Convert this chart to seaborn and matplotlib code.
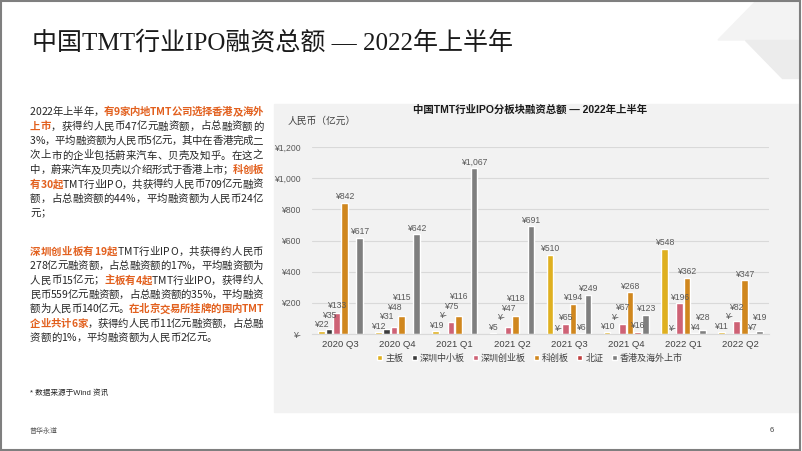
import numpy as np
import pandas as pd
import matplotlib
matplotlib.use("Agg")
import matplotlib.pyplot as plt
import seaborn as sns
from matplotlib.patches import Rectangle, Polygon
from matplotlib.ticker import FuncFormatter

# chart data (亿元)
quarters = ["2020 Q3", "2020 Q4", "2021 Q1", "2021 Q2",
            "2021 Q3", "2021 Q4", "2022 Q1", "2022 Q2"]
boards = ["主板", "深圳中小板", "深圳创业板", "科创板", "北证", "香港及海外上市"]
main_board = [22, 12, 19, 5, 510, 10, 548, 11]
sme_board = [35, 31, 0, 0, 0, 0, 0, 0]
chinext = [133, 48, 75, 47, 65, 67, 196, 82]
star_market = [842, 115, 116, 118, 194, 268, 362, 347]
bse = [np.nan, np.nan, np.nan, np.nan, 6, 16, 4, 7]
hk_overseas = [617, 642, 1067, 691, 249, 123, 28, 19]
palette = ["#FFC000", "#3B3B3B", "#E0506A", "#EE8C00", "#D42A2A", "#7F7F7F"]
y_ticks = [0, 200, 400, 600, 800, 1000, 1200]

# left column text: (text, highlighted?)
para1 = [
    [("2022年上半年，", False), ("有9家内地TMT公司选择香港及海外", True)],
    [("上市", True), ("，获得约人民币47亿元融资额，占总融资额的", False)],
    [("3%，平均融资额为人民币5亿元，其中在香港完成二", False)],
    [("次上市的企业包括蔚来汽车、贝壳及知乎。在这之", False)],
    [("中，蔚来汽车及贝壳以介绍形式于香港上市；", False), ("科创板", True)],
    [("有30起", True), ("TMT行业IPO，共获得约人民币709亿元融资", False)],
    [("额，占总融资额的44%，平均融资额为人民币24亿", False)],
    [("元；", False)],
]
para2 = [
    [("深圳创业板有19起", True), ("TMT行业IPO，共获得约人民币", False)],
    [("278亿元融资额，占总融资额的17%，平均融资额为", False)],
    [("人民币15亿元；", False), ("主板有4起", True), ("TMT行业IPO，获得约人", False)],
    [("民币559亿元融资额，占总融资额的35%，平均融资", False)],
    [("额为人民币140亿元。", False), ("在北京交易所挂牌的国内TMT", True)],
    [("企业共计6家", True), ("，获得约人民币11亿元融资额，占总融", False)],
    [("资额的1%，平均融资额为人民币2亿元。", False)],
]

series = [main_board, sme_board, chinext, star_market, bse, hk_overseas]
df = pd.DataFrame({
    "quarter": quarters * len(boards),
    "board": [b for b in boards for _ in quarters],
    "value": [v for s in series for v in s],
})

sns.set_style("white")
plt.rcParams["font.family"] = ["Liberation Sans", "Noto Sans CJK SC", "DejaVu Sans"]

W, H = 802, 451
fig = plt.figure(figsize=(W / 100, H / 100), dpi=100, facecolor="white")


def px(x, y):
    return (x / W, 1 - y / H)


# slide background pieces
fig.patches.append(Rectangle(px(274, 412), (800 - 274) / W, (412 - 104) / H,
                             transform=fig.transFigure, color="#F2F2F2", zorder=-5))
fig.patches.append(Polygon([px(718, 40), px(757, 0), px(800, 0), px(800, 40)],
                           closed=True, transform=fig.transFigure, color="#F3F3F3", zorder=-5))
fig.patches.append(Polygon([px(745, 40), px(800, 40), px(800, 78), px(782, 78)],
                           closed=True, transform=fig.transFigure, color="#ECECEC", zorder=-5))
fig.patches.append(Rectangle((0.001, 0.002), 0.997, 0.996, transform=fig.transFigure,
                             fill=False, edgecolor="#7F7F7F", lw=1.5, zorder=5))

# main title
fig.text(*px(32, 43), "中国TMT行业IPO融资总额 — 2022年上半年", fontsize=18,
         family=["Liberation Serif", "Noto Sans CJK SC"], color="#1A1A1A", va="center")

# chart
ax = fig.add_axes([312 / W, 1 - 334 / H, (769 - 312) / W, (334 - 147) / H])
ax.set_facecolor("none")
sns.barplot(data=df, x="quarter", y="value", hue="board", palette=palette,
            width=0.8, gap=0.12, errorbar=None, ax=ax)
ax.set_ylim(0, 1200)
ax.set_yticks(y_ticks)
ax.yaxis.set_major_formatter(FuncFormatter(lambda v, p: "¥-" if v == 0 else f"¥{v:,.0f}"))
ax.yaxis.grid(True, color="#D9D9D9", lw=0.8)
ax.set_axisbelow(True)
ax.set_xlabel("")
ax.set_ylabel("")
ax.tick_params(axis="y", length=0, labelsize=6.2, labelcolor="#595959", pad=8)
ax.tick_params(axis="x", length=0, labelsize=6.8, labelcolor="#404040", pad=4)
sns.despine(ax=ax, left=True)
ax.spines["bottom"].set_color("#D9D9D9")

renderer = fig.canvas.get_renderer()

# value labels; within a quarter, lift a label that would sit on an earlier one
groups = {}
for c in ax.containers:
    labels = ["" if np.isnan(v) else ("¥-" if v == 0 else f"¥{v:,.0f}") for v in c.datavalues]
    anns = ax.bar_label(c, labels=labels, fontsize=6.2, color="#595959", padding=1)
    for bar, ann in zip(c.patches, anns):
        if ann.get_text():
            groups.setdefault(round(bar.get_x() + bar.get_width() / 2), []).append(ann)

for anns in groups.values():
    placed = []
    for ann in anns:
        lift = 0.0
        for _ in range(6):
            bb = ann.get_window_extent(renderer)
            hit = [p for p in placed if bb.x0 < p.x1 - 1 and p.x0 < bb.x1 - 1
                   and bb.y0 < p.y1 and p.y0 < bb.y1]
            if not hit:
                break
            dy = max(p.y1 for p in hit) - bb.y0 + 0.5
            lift += dy * 72 / 100
            ann.xyann = (0, 1 + lift)
        placed.append(ann.get_window_extent(renderer))

ax.legend(loc="center", bbox_to_anchor=px(530, 358), bbox_transform=fig.transFigure,
          ncol=6, frameon=False, fontsize=6.5, handlelength=0.55, handleheight=0.55,
          handletextpad=0.35, columnspacing=0.9, labelcolor="#404040")

fig.text(*px(530, 110), "中国TMT行业IPO分板块融资总额 — 2022年上半年", fontsize=7.5,
         fontweight="bold", ha="center", va="center", color="#1A1A1A")
fig.text(*px(288, 121), "人民币（亿元）", fontsize=7, color="#404040", va="center")

# left text, drawn char by char so lines can be justified
HL = "#E2601E"


def draw_paragraph(lines, y0, step, x0=30, width=233):
    for i, line in enumerate(lines):
        chars = [(ch, hl) for text, hl in line for ch in text]
        arts = []
        for ch, hl in chars:
            t = fig.text(0, 0, ch, fontsize=7.5, color=HL if hl else "#262626",
                         fontweight="bold" if hl else "normal",
                         family=["Noto Sans CJK SC", "DejaVu Sans"], va="baseline")
            arts.append(t)
        ws = [t.get_window_extent(renderer).width for t in arts]
        last = i == len(lines) - 1
        extra = 0 if last else (width - sum(ws)) / (len(ws) - 1)
        x = x0
        yb = y0 + i * step + 4
        for t, w in zip(arts, ws):
            t.set_position(px(x, yb))
            x += w + extra


draw_paragraph(para1, 111, 14.5)
draw_paragraph(para2, 250.7, 14.4)

fig.text(*px(30, 393), "* 数据来源于Wind 资讯", fontsize=5.5, color="#262626", va="center")
fig.text(*px(30, 431), "普华永道", fontsize=5, color="#595959", va="center")
fig.text(*px(770, 431), "6", fontsize=5.5, color="#404040", va="center")

fig.savefig("out.png", dpi=100, facecolor="white")
